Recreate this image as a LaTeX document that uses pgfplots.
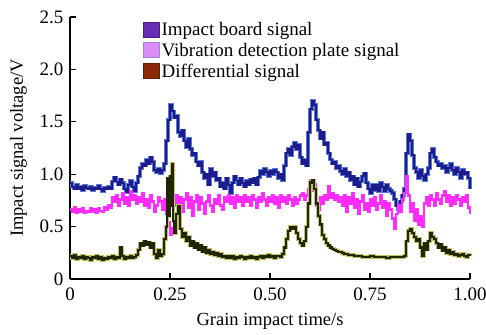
\documentclass[border=0pt]{standalone}
\usepackage{fontspec}
\setmainfont{Liberation Serif}
\usepackage{pgfplots}
\usepackage{pgfplotstable}
\pgfplotsset{compat=1.18}
\pgfplotsset{sqlegend/.style={legend image code/.code={\draw[##1] (0pt,-7pt) rectangle (16pt,8pt);}}}

\definecolor{bcore}{HTML}{1C1C8A}
\definecolor{bedge}{HTML}{5A78D8}
\definecolor{pinkl}{HTML}{FF2BFF}
\definecolor{dcore}{HTML}{1F2600}
\definecolor{dedge}{HTML}{C4C260}
\definecolor{legA}{HTML}{6A2BB5}
\definecolor{legB}{HTML}{D98CF5}
\definecolor{legC}{HTML}{8C2A08}

\pgfplotstableread{
x y
0.000 0.92
0.005 0.88
0.010 0.86
0.015 0.90
0.020 0.86
0.025 0.88
0.030 0.85
0.035 0.89
0.040 0.87
0.045 0.86
0.050 0.88
0.055 0.85
0.060 0.87
0.065 0.86
0.070 0.89
0.075 0.86
0.080 0.84
0.085 0.87
0.090 0.86
0.095 0.88
0.100 0.86
0.105 0.93
0.110 0.97
0.115 0.93
0.120 0.90
0.125 0.95
0.130 0.92
0.135 0.86
0.140 0.83
0.145 0.90
0.150 0.94
0.155 0.88
0.160 0.84
0.165 0.92
0.170 0.98
0.175 1.06
0.180 1.10
0.185 1.08
0.190 1.14
0.195 1.10
0.200 1.16
0.205 1.12
0.210 1.04
0.215 1.02
0.220 1.05
0.225 1.01
0.230 1.04
0.235 1.10
0.240 1.32
0.245 1.52
0.250 1.66
0.255 1.60
0.260 1.54
0.265 1.56
0.270 1.40
0.275 1.36
0.280 1.42
0.285 1.32
0.290 1.26
0.295 1.34
0.300 1.24
0.305 1.18
0.310 1.20
0.315 1.12
0.320 1.08
0.325 1.12
0.330 1.02
0.335 0.96
0.340 1.00
0.345 0.90
0.350 1.05
0.355 0.98
0.360 1.02
0.365 0.94
0.370 0.96
0.375 0.88
0.380 0.92
0.385 0.86
0.390 0.96
0.395 0.90
0.400 0.82
0.405 0.92
0.410 0.98
0.415 0.94
0.420 0.90
0.425 0.96
0.430 0.92
0.435 0.88
0.440 0.94
0.445 0.90
0.450 0.95
0.455 0.92
0.460 0.96
0.465 0.90
0.470 0.97
0.475 1.03
0.480 1.00
0.485 1.05
0.490 1.02
0.495 0.98
0.500 1.03
0.505 1.00
0.510 1.04
0.515 1.02
0.520 0.96
0.525 1.00
0.530 0.94
0.535 1.08
0.540 1.20
0.545 1.24
0.550 1.18
0.555 1.26
0.560 1.30
0.565 1.24
0.570 1.28
0.575 1.16
0.580 1.10
0.585 1.14
0.590 1.08
0.595 1.40
0.600 1.62
0.605 1.70
0.610 1.66
0.615 1.52
0.620 1.42
0.625 1.34
0.630 1.40
0.635 1.28
0.640 1.30
0.645 1.20
0.650 1.14
0.655 1.10
0.660 1.12
0.665 1.06
0.670 1.08
0.675 1.03
0.680 1.00
0.685 1.05
0.690 0.98
0.695 1.02
0.700 0.94
0.705 0.98
0.710 0.90
0.715 0.96
0.720 0.88
0.725 0.93
0.730 0.98
0.735 1.01
0.740 0.92
0.745 0.86
0.750 0.82
0.755 0.90
0.760 0.85
0.765 0.90
0.770 0.84
0.775 0.92
0.780 0.88
0.785 0.84
0.790 0.90
0.795 0.86
0.800 0.84
0.805 0.82
0.810 0.76
0.815 0.70
0.820 0.66
0.825 0.74
0.830 0.80
0.835 0.86
0.840 1.20
0.845 1.38
0.850 1.32
0.855 1.18
0.860 1.06
0.865 1.02
0.870 0.96
0.875 1.04
0.880 0.98
0.885 0.94
0.890 1.00
0.895 1.06
0.900 1.20
0.905 1.24
0.910 1.16
0.915 1.12
0.920 1.08
0.925 1.10
0.930 1.06
0.935 1.08
0.940 1.02
0.945 1.06
0.950 1.10
0.955 1.04
0.960 1.00
0.965 1.06
0.970 1.02
0.975 0.96
0.980 1.04
0.985 1.00
0.990 1.02
0.995 0.96
1.000 0.86
}\impact

\pgfplotstableread{
x y
0.000 0.66
0.005 0.64
0.010 0.68
0.015 0.63
0.020 0.66
0.025 0.64
0.030 0.67
0.035 0.63
0.040 0.65
0.045 0.64
0.050 0.67
0.055 0.64
0.060 0.66
0.065 0.63
0.070 0.67
0.075 0.65
0.080 0.64
0.085 0.68
0.090 0.66
0.095 0.70
0.100 0.68
0.105 0.78
0.110 0.74
0.115 0.80
0.120 0.70
0.125 0.76
0.130 0.82
0.135 0.72
0.140 0.78
0.145 0.70
0.150 0.84
0.155 0.76
0.160 0.80
0.165 0.72
0.170 0.78
0.175 0.74
0.180 0.82
0.185 0.70
0.190 0.76
0.195 0.68
0.200 0.80
0.205 0.74
0.210 0.64
0.215 0.70
0.220 0.78
0.225 0.74
0.230 0.66
0.235 0.76
0.240 0.62
0.245 0.54
0.250 0.42
0.255 0.48
0.260 0.70
0.265 0.80
0.270 0.72
0.275 0.78
0.280 0.64
0.285 0.76
0.290 0.82
0.295 0.68
0.300 0.78
0.305 0.60
0.310 0.74
0.315 0.80
0.320 0.66
0.325 0.78
0.330 0.72
0.335 0.62
0.340 0.74
0.345 0.80
0.350 0.70
0.355 0.64
0.360 0.76
0.365 0.72
0.370 0.80
0.375 0.70
0.380 0.66
0.385 0.78
0.390 0.74
0.395 0.80
0.400 0.72
0.405 0.78
0.410 0.68
0.415 0.80
0.420 0.74
0.425 0.78
0.430 0.70
0.435 0.80
0.440 0.74
0.445 0.78
0.450 0.70
0.455 0.80
0.460 0.76
0.465 0.68
0.470 0.78
0.475 0.74
0.480 0.82
0.485 0.76
0.490 0.70
0.495 0.78
0.500 0.74
0.505 0.80
0.510 0.72
0.515 0.78
0.520 0.68
0.525 0.80
0.530 0.74
0.535 0.78
0.540 0.72
0.545 0.80
0.550 0.76
0.555 0.70
0.560 0.78
0.565 0.72
0.570 0.76
0.575 0.80
0.580 0.82
0.585 0.76
0.590 0.80
0.595 0.86
0.600 0.94
0.605 0.84
0.610 0.90
0.615 0.70
0.620 0.66
0.625 0.78
0.630 0.72
0.635 0.80
0.640 0.76
0.645 0.88
0.650 0.78
0.655 0.82
0.660 0.76
0.665 0.80
0.670 0.74
0.675 0.78
0.680 0.70
0.685 0.80
0.690 0.64
0.695 0.78
0.700 0.72
0.705 0.82
0.710 0.68
0.715 0.76
0.720 0.62
0.725 0.74
0.730 0.80
0.735 0.66
0.740 0.72
0.745 0.64
0.750 0.76
0.755 0.70
0.760 0.78
0.765 0.66
0.770 0.72
0.775 0.80
0.780 0.68
0.785 0.74
0.790 0.60
0.795 0.72
0.800 0.66
0.805 0.58
0.810 0.48
0.815 0.62
0.820 0.70
0.825 0.64
0.830 0.76
0.835 0.82
0.840 0.98
0.845 0.80
0.850 0.64
0.855 0.72
0.860 0.56
0.865 0.66
0.870 0.52
0.875 0.60
0.880 0.50
0.885 0.72
0.890 0.78
0.895 0.70
0.900 0.80
0.905 0.76
0.910 0.70
0.915 0.82
0.920 0.76
0.925 0.72
0.930 0.80
0.935 0.84
0.940 0.74
0.945 0.80
0.950 0.70
0.955 0.78
0.960 0.72
0.965 0.80
0.970 0.76
0.975 0.70
0.980 0.78
0.985 0.74
0.990 0.80
0.995 0.68
1.000 0.62
}\vibration

\pgfplotstableread{
x y
0.000 0.22
0.005 0.20
0.010 0.23
0.015 0.19
0.020 0.21
0.025 0.20
0.030 0.22
0.035 0.19
0.040 0.21
0.045 0.20
0.050 0.18
0.055 0.21
0.060 0.20
0.065 0.22
0.070 0.19
0.075 0.21
0.080 0.18
0.085 0.20
0.090 0.19
0.095 0.21
0.100 0.20
0.105 0.22
0.110 0.19
0.115 0.21
0.120 0.20
0.125 0.30
0.130 0.22
0.135 0.19
0.140 0.21
0.145 0.20
0.150 0.22
0.155 0.20
0.160 0.21
0.165 0.23
0.170 0.28
0.175 0.34
0.180 0.32
0.185 0.36
0.190 0.33
0.195 0.35
0.200 0.30
0.205 0.34
0.210 0.24
0.215 0.20
0.220 0.28
0.225 0.22
0.230 0.24
0.235 0.38
0.240 0.50
0.243 0.96
0.246 0.60
0.249 0.98
0.252 0.70
0.255 1.10
0.258 0.55
0.261 0.44
0.265 0.62
0.270 0.70
0.275 0.48
0.280 0.40
0.285 0.44
0.290 0.36
0.295 0.40
0.300 0.32
0.305 0.36
0.310 0.30
0.315 0.34
0.320 0.28
0.325 0.32
0.330 0.26
0.335 0.30
0.340 0.25
0.345 0.28
0.350 0.24
0.355 0.26
0.360 0.23
0.365 0.25
0.370 0.22
0.375 0.24
0.380 0.21
0.385 0.22
0.390 0.20
0.395 0.22
0.400 0.20
0.405 0.22
0.410 0.19
0.415 0.21
0.420 0.20
0.425 0.22
0.430 0.21
0.435 0.19
0.440 0.21
0.445 0.20
0.450 0.22
0.455 0.20
0.460 0.21
0.465 0.19
0.470 0.21
0.475 0.22
0.480 0.20
0.485 0.22
0.490 0.21
0.495 0.23
0.500 0.21
0.505 0.22
0.510 0.20
0.515 0.22
0.520 0.22
0.525 0.21
0.530 0.24
0.535 0.30
0.540 0.38
0.545 0.46
0.550 0.50
0.555 0.48
0.560 0.50
0.565 0.44
0.570 0.38
0.575 0.34
0.580 0.32
0.585 0.36
0.590 0.50
0.595 0.72
0.600 0.92
0.605 0.94
0.610 0.86
0.615 0.72
0.620 0.60
0.625 0.52
0.630 0.42
0.635 0.38
0.640 0.34
0.645 0.32
0.650 0.30
0.655 0.29
0.660 0.28
0.665 0.27
0.670 0.26
0.675 0.26
0.680 0.25
0.685 0.24
0.690 0.24
0.695 0.23
0.700 0.23
0.710 0.22
0.720 0.22
0.730 0.21
0.740 0.21
0.750 0.22
0.760 0.21
0.770 0.21
0.780 0.21
0.790 0.20
0.800 0.21
0.810 0.21
0.820 0.21
0.830 0.21
0.835 0.22
0.840 0.36
0.845 0.46
0.850 0.48
0.855 0.44
0.860 0.40
0.865 0.36
0.870 0.38
0.875 0.30
0.880 0.22
0.885 0.34
0.890 0.28
0.895 0.36
0.900 0.44
0.905 0.40
0.910 0.38
0.915 0.34
0.920 0.30
0.925 0.33
0.930 0.27
0.935 0.30
0.940 0.25
0.945 0.28
0.950 0.24
0.955 0.26
0.960 0.23
0.965 0.24
0.970 0.22
0.975 0.23
0.980 0.24
0.985 0.22
0.990 0.21
0.995 0.23
1.000 0.22
}\differential

\begin{document}
\begin{tikzpicture}
\useasboundingbox (-70pt,-55pt) rectangle (416pt,279pt);
\begin{axis}[
  at={(0,0)}, anchor=south west,
  width=400pt, height=262pt, scale only axis,
  xmin=0, xmax=1, ymin=0, ymax=2.5,
  axis lines=left,
  axis line style={-, line width=1.2pt},
  tick align=inside,
  tick style={black, line width=1.2pt},
  major tick length=6pt,
  xtick={0,0.25,0.5,0.75,1},
  xticklabels={0,0.25,0.50,0.75,1.00},
  ytick={0,0.5,1,1.5,2,2.5},
  yticklabels={0,0.5,1.0,1.5,2.0,2.5},
  ticklabel style={font=\fontsize{19}{20}\selectfont},
  xticklabel style={yshift=-5pt},
  yticklabel style={xshift=-3pt},
  xlabel={Grain impact time/s},
  ylabel={Impact signal voltage/V},
  label style={font=\fontsize{18.5}{20}\selectfont},
  xlabel style={yshift=-6pt},
  ylabel style={yshift=6pt},
  clip=false,
  legend style={at={(0.175,0.995)}, anchor=north west, draw=none, fill=none,
    font=\fontsize{19}{20.5}\selectfont, row sep=2pt,
    /tikz/every even column/.append style={column sep=6pt}},
  legend cell align=left,
]
\addlegendimage{sqlegend, fill=legA, draw=legA!70!black}
\addlegendentry{Impact board signal}
\addlegendimage{sqlegend, fill=legB, draw=legA!60}
\addlegendentry{Vibration detection plate signal}
\addlegendimage{sqlegend, fill=legC, draw=legC!70!black}
\addlegendentry{Differential signal}

\addplot[const plot, bedge, line width=3.2pt, forget plot] table {\impact};
\addplot[const plot, bcore, line width=1.9pt, forget plot] table {\impact};
\addplot[const plot, pinkl, line width=2.7pt, forget plot] table {\vibration};
\addplot[const plot, dedge, line width=3.4pt, forget plot] table {\differential};
\addplot[const plot, dcore, line width=2.2pt, forget plot] table {\differential};
\end{axis}
\end{tikzpicture}
\end{document}
